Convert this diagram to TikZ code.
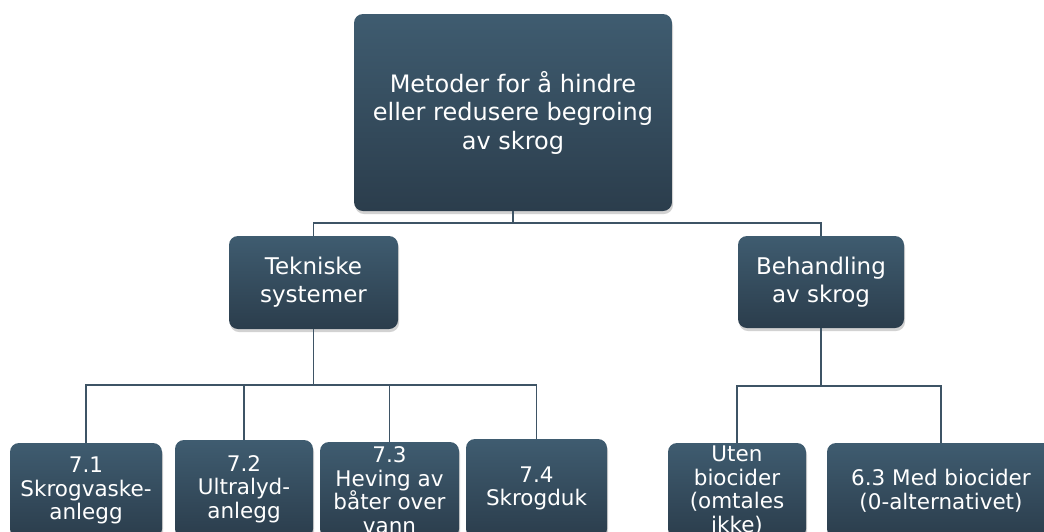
\documentclass[tikz,border=0pt]{standalone}
\usepackage{fontspec}
\setmainfont{DejaVu Sans}
\usepackage{xcolor}
\usepackage{tikz}
\usetikzlibrary{
    calc,
    shadows,
    positioning
}
\definecolor{boxtop}{RGB}{63,92,112}
\definecolor{boxbottom}{RGB}{43,61,76}
\definecolor{linkcol}{RGB}{62,84,101}
\tikzset{
    % dark rounded box with a vertical gradient
    topicbox/.style={
        rectangle, rounded corners=9pt,
        top color=boxtop, bottom color=boxbottom,
        draw=none, text=white, align=center, inner sep=0pt,
        drop shadow={opacity=0.35, shadow xshift=1pt, shadow yshift=-3pt}
    },
    rootfont/.style={font=\fontsize{24}{28.5}\selectfont},
    midfont/.style={font=\fontsize{23}{28}\selectfont},
    leaffont/.style={font=\fontsize{21.5}{23.5}\selectfont},
    link/.style={draw=linkcol, line width=1.6pt}
}

\begin{document}
\begin{tikzpicture}[x=1pt, y=-1pt]
    \useasboundingbox (0,0) rectangle (1044,531);
    \clip (0,0) rectangle (1044,531);
    \fill[white] (0,0) rectangle (1044,531);

    \node[topicbox, rootfont, minimum width=318pt, minimum height=197pt] (root) at (513,112.5)
        {Metoder for å hindre\\eller redusere begroing\\av skrog};

    \node[topicbox, midfont, minimum width=169pt, minimum height=93pt] (tek) at (313.5,282.5)
        {Tekniske\\systemer};
    \node[topicbox, midfont, minimum width=166pt, minimum height=92pt] (beh) at (821,282)
        {Behandling\\av skrog};

    \node[topicbox, leaffont, minimum width=152pt, minimum height=95pt] (s71) at (86,490.5)
        {7.1\\Skrogvaske-\\anlegg};
    \node[topicbox, leaffont, minimum width=138pt, minimum height=98pt] (s72) at (244,489)
        {7.2\\Ultralyd-\\anlegg};
    \node[topicbox, leaffont, minimum width=139pt, minimum height=96pt] (s73) at (389.5,490)
        {7.3\\Heving av\\båter over\\vann};
    \node[topicbox, leaffont, minimum width=141pt, minimum height=99pt] (s74) at (536.5,488.5)
        {7.4\\Skrogduk};
    \node[topicbox, leaffont, minimum width=138pt, minimum height=95pt] (uten) at (737,490.5)
        {Uten\\biocider\\(omtales\\ikke)};
    \node[topicbox, leaffont, minimum width=228pt, minimum height=95pt] (med) at (941,490.5)
        {6.3 Med biocider\\(0-alternativet)};

    \begin{scope}[link]
        \foreach \c in {tek, beh} {
            \draw (root.south) -- ++(0,12) -| (\c.north);
        }
        \foreach \c in {s71, s72, s73, s74} {
            \draw (tek.south) -- ++(0,56) -| (\c.north);
        }
        \foreach \c in {uten, med} {
            \draw (beh.south) -- ++(0,58) -| (\c.north);
        }
    \end{scope}
\end{tikzpicture}
\end{document}
